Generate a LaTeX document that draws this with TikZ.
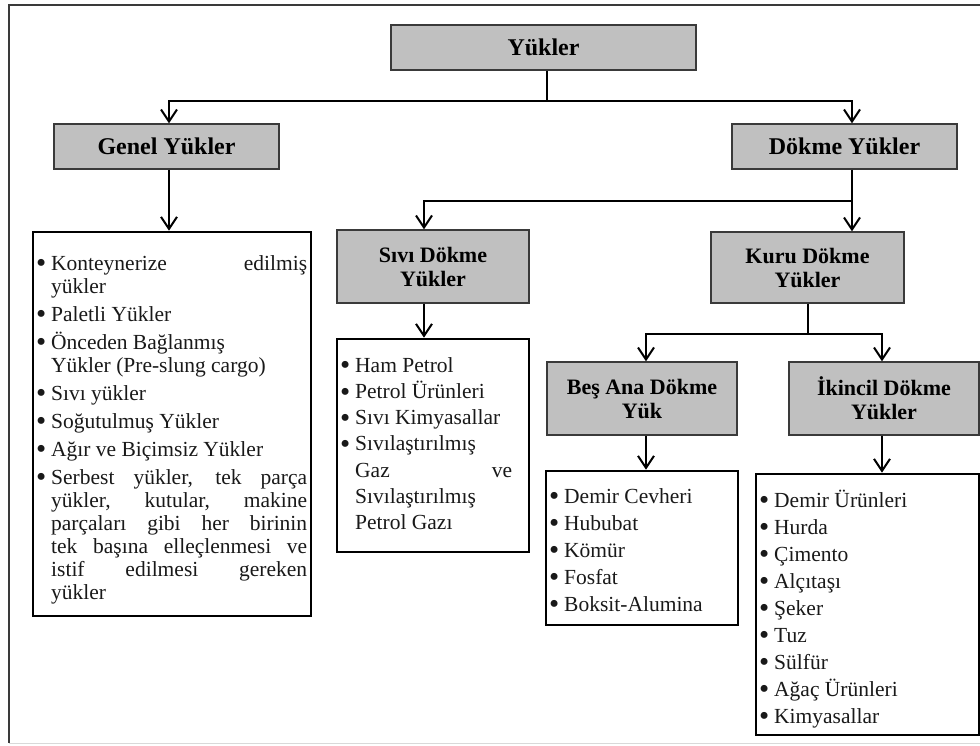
\documentclass[tikz,border=0pt]{standalone}
\usepackage{fontspec}
\usepackage{graphicx}
\setmainfont{Liberation Serif}
\usetikzlibrary{arrows.meta}
\definecolor{hdrfill}{HTML}{C0C0C0}
\definecolor{hdrline}{HTML}{3A3A3A}
\newcommand{\bul}{\makebox[15pt][l]{\raisebox{-2.8pt}{\scalebox{1.35}{•}}}}
\newcommand{\ind}{\hspace*{15pt}}
\newcommand{\jl}[2]{\makebox[#1][s]{#2}}
\tikzset{
  hdr/.style={draw=hdrline, line width=1.4pt, fill=hdrfill, inner sep=0pt, align=center},
  hdrA/.style={hdr, font=\fontsize{24}{26}\selectfont\bfseries},
  hdrB/.style={hdr, font=\fontsize{22}{24}\selectfont\bfseries},
  listbox/.style={draw=black, line width=2.6pt, inner sep=0pt},
  listtxt/.style={anchor=base west, inner sep=0pt, text=black!90},
  conn/.style={line width=2pt, black},
  arr/.style={conn, -{Straight Barb[length=12pt,width=16pt,line width=2pt]}},
}
\begin{document}
\begin{tikzpicture}[x=1pt,y=-1pt]
\useasboundingbox (0,0) rectangle (980,745);
% outer frame
\draw[hdrline, line width=1.4pt] (985,5) -- (9,5) -- (9,743);
\draw[gray!30, line width=1pt] (9,743) -- (985,743);

% header boxes
\node[hdrA, minimum width=305pt, minimum height=45pt] (yuk) at (543.5,47.5) {Yükler};
\node[hdrA, minimum width=225pt, minimum height=45pt] (genel) at (166.5,146.5) {Genel Yükler};
\node[hdrA, minimum width=225pt, minimum height=45pt] (dok) at (844.5,146.5) {Dökme Yükler};
\node[hdrB, minimum width=192pt, minimum height=73pt] (sivi) at (433,266.5) {Sıvı Dökme\\Yükler};
\node[hdrB, minimum width=193pt, minimum height=71pt] (kuru) at (807.5,267.5) {Kuru Dökme\\Yükler};
\node[hdrB, minimum width=190pt, minimum height=73pt] (bes) at (642,398.5) {Beş Ana Dökme\\Yük};
\node[hdrB, minimum width=190pt, minimum height=73pt] (ikin) at (884,398.5) {İkincil Dökme\\Yükler};

% list boxes
\node[listbox, minimum width=278pt, minimum height=384pt] (glist) at (172,424) {};
\node[listbox, minimum width=192pt, minimum height=213pt] (slist) at (433,445.5) {};
\node[listbox, minimum width=192pt, minimum height=154pt] (blist) at (642,548) {};
\node[listbox, minimum width=223pt, minimum height=261pt] (ilist) at (867.5,604.5) {};

% list texts
\node[listtxt] (gtxt) at (36,270) {\parbox[t]{290pt}{\fontsize{21.5}{23}\selectfont
\bul\jl{256pt}{Konteynerize edilmiş}\\
\ind yükler\\[5pt]
\bul Paletli Yükler\\[5pt]
\bul Önceden Bağlanmış\\
\ind Yükler (Pre-slung cargo)\\[5pt]
\bul Sıvı yükler\\[5pt]
\bul Soğutulmuş Yükler\\[5pt]
\bul Ağır ve Biçimsiz Yükler\\[5pt]
\bul\jl{256pt}{Serbest yükler, tek parça}\\
\ind\jl{256pt}{yükler, kutular, makine}\\
\ind\jl{256pt}{parçaları gibi her birinin}\\
\ind\jl{256pt}{tek başına elleçlenmesi ve}\\
\ind\jl{256pt}{istif edilmesi gereken}\\
\ind yükler}};

\node[listtxt] (stxt) at (340,372) {\parbox[t]{200pt}{\fontsize{21.5}{26.3}\selectfont
\bul Ham Petrol\\
\bul Petrol Ürünleri\\
\bul Sıvı Kimyasallar\\
\bul Sıvılaştırılmış\\
\ind\jl{157pt}{Gaz ve}\\
\ind Sıvılaştırılmış\\
\ind Petrol Gazı}};

\node[listtxt] (btxt) at (549,503) {\parbox[t]{200pt}{\fontsize{21.5}{27}\selectfont
\bul Demir Cevheri\\
\bul Hububat\\
\bul Kömür\\
\bul Fosfat\\
\bul Boksit-Alumina}};

\node[listtxt] (itxt) at (759,507) {\parbox[t]{220pt}{\fontsize{21.5}{27}\selectfont
\bul Demir Ürünleri\\
\bul Hurda\\
\bul Çimento\\
\bul Alçıtaşı\\
\bul Şeker\\
\bul Tuz\\
\bul Sülfür\\
\bul Ağaç Ürünleri\\
\bul Kimyasallar}};

% connector coordinates
\coordinate (t0) at (547,101);
\coordinate (tL) at (169,101);
\coordinate (tR) at (852,101);
\coordinate (d0) at (852,201);
\coordinate (dL) at (424,201);
\coordinate (k0) at (808,334);
\coordinate (kL) at (646,334);
\coordinate (kR) at (882,334);

% connectors
\draw[conn] (yuk.south -| t0) -- (t0);
\draw[arr] (t0) -- (tL) -- (tL |- genel.north);
\draw[arr] (t0) -- (tR) -- (tR |- dok.north);
\draw[arr] (genel.south -| tL) -- (tL |- glist.north);

\draw[conn] (dok.south -| d0) -- (d0);
\draw[arr] (d0) -- (dL) -- (dL |- sivi.north);
\draw[arr] (d0) -- (d0 |- kuru.north);
\draw[arr] (sivi.south -| dL) -- (dL |- slist.north);

\draw[conn] (kuru.south -| k0) -- (k0);
\draw[arr] (k0) -- (kL) -- (kL |- bes.north);
\draw[arr] (k0) -- (kR) -- (kR |- ikin.north);
\draw[arr] (bes.south -| kL) -- (kL |- blist.north);
\draw[arr] (ikin.south -| kR) -- (kR |- ilist.north);
\end{tikzpicture}
\end{document}
